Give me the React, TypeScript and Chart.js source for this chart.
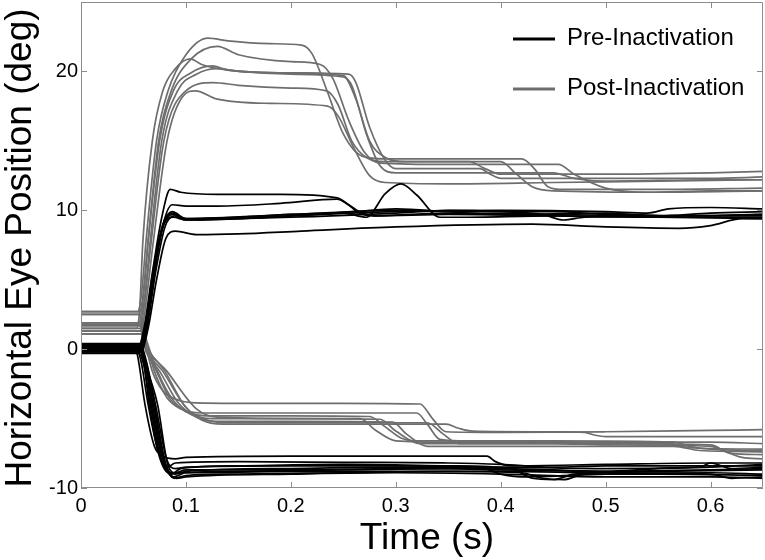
import React, { useEffect, useRef } from "react";
import { Chart, registerables } from "chart.js";

Chart.register(...registerables);

// ---------- axes / labels ----------
const X_MIN = 0;
const X_MAX = 0.65;
const Y_MIN = -10;
const Y_MAX = 25;
const xTickValues = [0, 0.1, 0.2, 0.3, 0.4, 0.5, 0.6];
const yTickValues = [-10, 0, 10, 20];
const xTitle = "Time (s)";
const yTitle = "Horizontal Eye Position (deg)";
const legendLabels = ["Pre-Inactivation", "Post-Inactivation"];
const PRE_COLOR = "#000000";
const POST_COLOR = "#6e6e6e";
const FONT = "'Liberation Sans', Arial, sans-serif";

type Trace = [number, number][];

// ---------- Pre-inactivation, rightward (up) ----------
const preUp: Trace[] = [
  [[0, 0.25], [0.055, 0.25], [0.06, 1.5], [0.068, 5.5], [0.077, 9.5], [0.085, 11.5], [0.095, 11.3], [0.13, 11.15], [0.19, 11.15], [0.244, 10.9], [0.255, 10.4], [0.265, 9.8], [0.28, 9.6], [0.35, 9.7], [0.45, 9.6], [0.55, 9.5], [0.65, 9.5]],
  [[0, 0.0], [0.056, 0.0], [0.062, 1.5], [0.07, 5.5], [0.079, 9.2], [0.087, 10.4], [0.1, 10.3], [0.13, 10.3], [0.19, 10.5], [0.244, 10.8], [0.255, 10.4], [0.268, 9.8], [0.28, 9.6], [0.35, 9.8], [0.45, 9.7], [0.55, 9.6], [0.65, 9.7]],
  [[0, 0.1], [0.056, 0.1], [0.062, 1.8], [0.07, 6], [0.079, 9.1], [0.087, 9.9], [0.1, 9.4], [0.15, 9.5], [0.2, 9.7], [0.25, 9.8], [0.272, 9.5], [0.29, 11.2], [0.305, 11.9], [0.32, 11.1], [0.342, 9.5], [0.36, 9.5], [0.45, 9.6], [0.55, 9.5], [0.65, 9.4]],
  [[0, -0.1], [0.057, -0.1], [0.063, 1.5], [0.071, 5.5], [0.08, 8.8], [0.089, 9.6], [0.1, 9.3], [0.15, 9.4], [0.2, 9.6], [0.3, 9.9], [0.4, 10.0], [0.5, 9.9], [0.54, 9.8], [0.56, 10.1], [0.6, 10.2], [0.65, 10.1]],
  [[0, 0.3], [0.056, 0.3], [0.062, 1.8], [0.07, 6], [0.079, 9.0], [0.088, 9.7], [0.1, 9.4], [0.2, 9.7], [0.3, 10.0], [0.4, 9.9], [0.45, 9.9], [0.5, 9.7], [0.6, 9.6], [0.65, 9.7]],
  [[0, -0.2], [0.057, -0.2], [0.064, 1.5], [0.072, 5], [0.081, 8.0], [0.09, 8.5], [0.11, 8.25], [0.15, 8.3], [0.21, 8.5], [0.3, 8.8], [0.43, 9.0], [0.5, 8.8], [0.57, 8.7], [0.6, 8.9], [0.63, 9.4], [0.65, 9.4]],
  [[0, 0.0], [0.055, 0.0], [0.061, 1.5], [0.069, 5.8], [0.078, 9.0], [0.087, 9.8], [0.1, 9.35], [0.2, 9.5], [0.3, 9.8], [0.35, 10.0], [0.4, 9.9], [0.44, 9.7], [0.46, 9.3], [0.48, 9.5], [0.6, 9.6], [0.65, 9.6]],
  [[0, 0.2], [0.056, 0.2], [0.062, 1.7], [0.07, 5.8], [0.079, 9.0], [0.088, 9.5], [0.1, 9.3], [0.2, 9.6], [0.26, 9.9], [0.3, 10.1], [0.35, 9.9], [0.4, 9.7], [0.5, 9.8], [0.55, 9.6], [0.6, 9.8], [0.65, 9.9]],
];

// ---------- Pre-inactivation, leftward (down) ----------
const preDown: Trace[] = [
  [[0, 0.3], [0.05, 0.3], [0.054, -0.5], [0.061, -4.0], [0.07, -7.0], [0.078, -7.7], [0.09, -7.9], [0.1, -7.8], [0.2, -7.7], [0.3, -7.7], [0.387, -7.7], [0.395, -8.1], [0.41, -8.4], [0.5, -8.3], [0.6, -8.2], [0.65, -8.2]],
  [[0, 0.1], [0.052, 0.1], [0.057, -0.8], [0.064, -4.0], [0.074, -7.5], [0.082, -8.5], [0.09, -8.2], [0.15, -8.1], [0.25, -8.15], [0.35, -8.2], [0.4, -8.3], [0.45, -8.5], [0.5, -8.4], [0.6, -8.4], [0.65, -8.4]],
  [[0, -0.3], [0.055, -0.3], [0.06, -1.2], [0.066, -4.0], [0.076, -7.8], [0.086, -9.0], [0.095, -8.6], [0.15, -8.4], [0.25, -8.3], [0.35, -8.4], [0.41, -8.6], [0.43, -9.3], [0.45, -9.4], [0.47, -9.0], [0.55, -8.8], [0.65, -8.7]],
  [[0, 0.4], [0.056, 0.4], [0.061, -0.8], [0.067, -4.0], [0.078, -8.0], [0.088, -9.2], [0.1, -8.9], [0.15, -8.8], [0.25, -8.7], [0.35, -8.6], [0.4, -8.7], [0.5, -8.8], [0.6, -8.7], [0.65, -8.6]],
  [[0, 0.0], [0.057, 0.0], [0.062, -1.0], [0.068, -4.0], [0.079, -8.0], [0.089, -9.3], [0.1, -9.1], [0.15, -9.0], [0.25, -8.9], [0.35, -8.8], [0.42, -8.9], [0.44, -9.3], [0.46, -9.4], [0.48, -9.0], [0.55, -9.0], [0.65, -9.1]],
  [[0, 0.2], [0.056, 0.2], [0.061, -1.0], [0.069, -4.0], [0.08, -8.2], [0.09, -9.0], [0.1, -8.8], [0.2, -8.6], [0.3, -8.5], [0.4, -8.5], [0.5, -8.6], [0.59, -8.5], [0.6, -8.2], [0.62, -8.6], [0.65, -8.5]],
  [[0, -0.1], [0.058, -0.1], [0.063, -1.2], [0.07, -4.0], [0.081, -8.3], [0.091, -9.3], [0.1, -9.2], [0.2, -9.0], [0.3, -8.9], [0.4, -9.0], [0.5, -9.2], [0.6, -9.2], [0.65, -9.3]],
  [[0, 0.3], [0.057, 0.3], [0.062, -0.8], [0.071, -4.0], [0.082, -8.0], [0.09, -8.6], [0.1, -8.5], [0.2, -8.4], [0.3, -8.4], [0.38, -8.5], [0.4, -9.0], [0.42, -9.2], [0.5, -9.0], [0.6, -8.9], [0.65, -9.0]],
  [[0, -0.2], [0.056, -0.2], [0.062, -1.3], [0.073, -4.0], [0.083, -8.4], [0.09, -8.9], [0.1, -8.7], [0.2, -8.7], [0.3, -8.6], [0.4, -8.6], [0.45, -8.7], [0.5, -8.8], [0.55, -8.6], [0.6, -8.5], [0.65, -8.3]],
  [[0, 0.1], [0.055, 0.1], [0.06, -1.0], [0.065, -4.0], [0.075, -7.8], [0.084, -8.9], [0.1, -8.9], [0.2, -8.8], [0.3, -8.8], [0.4, -8.8], [0.5, -8.9], [0.6, -9.0], [0.62, -9.3], [0.65, -9.2]],
];

// ---------- Post-inactivation, rightward (up) ----------
const postUp: Trace[] = [
  [[0, 2.7], [0.054, 2.7], [0.058, 4.2], [0.062, 7.8], [0.072, 15], [0.083, 18.6], [0.1, 21.2], [0.121, 22.4], [0.14, 22.2], [0.18, 22.0], [0.21, 21.9], [0.22, 21.3], [0.235, 18.5], [0.25, 15.5], [0.268, 13.9], [0.29, 13.7], [0.35, 13.7], [0.42, 13.7], [0.432, 13.0], [0.445, 11.7], [0.46, 11.5], [0.55, 11.5], [0.65, 11.6]],
  [[0, 1.9], [0.055, 1.9], [0.059, 3.5], [0.064, 7.8], [0.074, 15], [0.086, 18.6], [0.105, 20.9], [0.13, 21.8], [0.15, 21.2], [0.2, 20.7], [0.228, 20.5], [0.24, 19.5], [0.255, 16.5], [0.27, 14.2], [0.285, 13.4], [0.35, 13.3], [0.455, 13.3], [0.47, 12.6], [0.5, 11.6], [0.54, 11.3], [0.6, 11.4], [0.65, 11.4]],
  [[0, 1.5], [0.053, 1.5], [0.056, 3], [0.059, 7.8], [0.068, 15], [0.078, 18.6], [0.09, 20.2], [0.104, 20.9], [0.115, 20.5], [0.14, 20.1], [0.2, 19.9], [0.25, 19.7], [0.262, 18.0], [0.275, 15.0], [0.29, 13.8], [0.31, 13.5], [0.37, 13.5], [0.385, 13.0], [0.4, 12.6], [0.5, 12.6], [0.6, 12.7], [0.65, 12.8]],
  [[0, 2.5], [0.055, 2.5], [0.059, 3.8], [0.064, 7.8], [0.075, 15], [0.088, 18.6], [0.105, 19.9], [0.125, 20.4], [0.14, 20.1], [0.2, 19.9], [0.255, 19.8], [0.262, 19.2], [0.275, 16], [0.29, 13.6], [0.3, 13.0], [0.38, 13.0], [0.39, 12.6], [0.4, 12.3], [0.5, 12.3], [0.6, 12.3], [0.65, 12.4]],
  [[0, 1.7], [0.056, 1.7], [0.06, 3.3], [0.066, 7.8], [0.077, 15], [0.092, 18.6], [0.11, 19.8], [0.13, 20.2], [0.15, 20.0], [0.2, 19.8], [0.25, 19.6], [0.258, 19.0], [0.272, 15.5], [0.285, 13.2], [0.3, 12.7], [0.45, 12.7], [0.47, 12.3], [0.5, 12.1], [0.6, 12.2], [0.65, 12.2]],
  [[0, 1.3], [0.056, 1.3], [0.06, 3], [0.067, 7.8], [0.079, 15], [0.1, 18.6], [0.126, 19.2], [0.15, 19.0], [0.2, 18.8], [0.234, 18.6], [0.245, 17.6], [0.258, 15], [0.272, 13.8], [0.29, 13.5], [0.4, 13.5], [0.415, 12.6], [0.43, 11.7], [0.45, 11.4], [0.55, 11.3], [0.65, 11.4]],
  [[0, 1.1], [0.057, 1.1], [0.061, 2.8], [0.069, 7.8], [0.082, 15], [0.097, 18.2], [0.109, 18.6], [0.13, 18.0], [0.18, 17.7], [0.235, 17.5], [0.245, 16.8], [0.26, 14.5], [0.275, 12.5], [0.29, 12.0], [0.35, 11.9], [0.45, 12.0], [0.55, 12.1], [0.65, 12.2]],
];

// ---------- Post-inactivation, leftward (down) ----------
const postDown: Trace[] = [
  [[0, 1.8], [0.056, 1.8], [0.06, 0.8], [0.068, -1.6], [0.078, -3.0], [0.09, -3.6], [0.105, -3.85], [0.15, -3.9], [0.25, -3.9], [0.323, -3.95], [0.335, -5.0], [0.348, -5.95], [0.4, -6.0], [0.5, -5.95], [0.6, -5.85], [0.65, -5.8]],
  [[0, 2.5], [0.055, 2.5], [0.06, 1.0], [0.07, -1.6], [0.082, -3.5], [0.095, -4.3], [0.115, -4.6], [0.2, -4.6], [0.32, -4.6], [0.33, -5.4], [0.342, -6.5], [0.36, -6.6], [0.45, -6.6], [0.565, -6.7], [0.58, -7.0], [0.6, -7.2], [0.65, -7.3]],
  [[0, 1.5], [0.056, 1.5], [0.061, 0.3], [0.072, -1.6], [0.085, -3.6], [0.1, -4.5], [0.12, -4.8], [0.2, -4.8], [0.275, -4.85], [0.29, -5.6], [0.305, -6.4], [0.32, -6.6], [0.4, -6.6], [0.5, -6.7], [0.6, -6.7], [0.65, -6.8]],
  [[0, 2.7], [0.055, 2.7], [0.061, 1.0], [0.073, -1.6], [0.088, -3.7], [0.105, -4.7], [0.125, -5.0], [0.2, -5.0], [0.285, -5.05], [0.3, -5.9], [0.323, -6.8], [0.4, -6.8], [0.5, -6.8], [0.6, -6.9], [0.615, -7.4], [0.63, -7.8], [0.65, -7.9]],
  [[0, 1.1], [0.057, 1.1], [0.062, -0.2], [0.075, -1.6], [0.092, -3.8], [0.11, -4.9], [0.13, -5.2], [0.2, -5.2], [0.297, -5.25], [0.31, -6.1], [0.33, -7.0], [0.4, -7.0], [0.5, -7.0], [0.565, -7.0], [0.59, -7.3], [0.65, -7.4]],
  [[0, 1.3], [0.057, 1.3], [0.062, 0], [0.078, -1.6], [0.098, -4.0], [0.115, -5.1], [0.135, -5.4], [0.2, -5.4], [0.348, -5.4], [0.36, -5.7], [0.373, -5.9], [0.45, -5.95], [0.48, -6.0], [0.49, -6.2], [0.5, -6.3], [0.6, -6.3], [0.65, -6.3]],
  [[0, 1.9], [0.056, 1.9], [0.061, 0.5], [0.08, -1.6], [0.1, -4.2], [0.12, -5.1], [0.14, -5.3], [0.2, -5.3], [0.33, -5.3], [0.345, -6.1], [0.36, -6.8], [0.45, -6.8], [0.5, -6.9], [0.6, -7.0], [0.62, -7.5], [0.65, -7.6]],
  [[0, 1.7], [0.056, 1.7], [0.061, 0.4], [0.082, -1.6], [0.11, -4.3], [0.13, -4.9], [0.2, -5.0], [0.266, -5.0], [0.28, -5.8], [0.3, -6.6], [0.35, -6.7], [0.45, -6.7], [0.5, -6.8], [0.56, -6.8], [0.58, -7.1], [0.65, -7.2]],
];

const makeDataset = (trace: Trace, color: string, label: string) => ({
  label,
  data: trace.map(([t, v]) => ({ x: t, y: v })),
  borderColor: color,
  backgroundColor: color,
  borderWidth: 1.7,
  pointRadius: 0,
  pointHoverRadius: 0,
  fill: false,
  cubicInterpolationMode: "monotone" as const,
});

const framePlugin = {
  id: "frameAndText",
  afterDraw(chart: any) {
    const { ctx, chartArea, scales } = chart;
    const { left, right, top, bottom } = chartArea;
    const xs = scales.x;
    const ys = scales.y;
    ctx.save();
    // frame
    ctx.strokeStyle = "#8c8c8c";
    ctx.lineWidth = 1;
    ctx.beginPath();
    ctx.moveTo(left + 0.5, top + 0.5);
    ctx.lineTo(right - 0.5, top + 0.5);
    ctx.lineTo(right - 0.5, bottom - 0.5);
    ctx.lineTo(left + 0.5, bottom - 0.5);
    ctx.closePath();
    ctx.stroke();
    // inward ticks
    const TL = 6;
    ctx.beginPath();
    xTickValues.forEach((v) => {
      const px = Math.round(xs.getPixelForValue(v)) + 0.5;
      ctx.moveTo(px, bottom);
      ctx.lineTo(px, bottom - TL);
      ctx.moveTo(px, top);
      ctx.lineTo(px, top + TL);
    });
    yTickValues.forEach((v) => {
      const py = Math.round(ys.getPixelForValue(v)) + 0.5;
      ctx.moveTo(left, py);
      ctx.lineTo(left + TL, py);
      ctx.moveTo(right, py);
      ctx.lineTo(right - TL, py);
    });
    ctx.stroke();

    // axis titles
    ctx.fillStyle = "#000";
    ctx.font = `37px ${FONT}`;
    ctx.textAlign = "center";
    ctx.textBaseline = "middle";
    ctx.fillText(xTitle, (left + right) / 2 + 5, 539);
    ctx.save();
    ctx.translate(21, (top + bottom) / 2 + 3);
    ctx.rotate(-Math.PI / 2);
    ctx.fillText(yTitle, 0, 0);
    ctx.restore();

    // legend
    const lx0 = right - 250;
    const lx1 = right - 208;
    const tx = right - 196;
    const rows = [
      { y: top + 37, color: PRE_COLOR, text: legendLabels[0] },
      { y: top + 87, color: POST_COLOR, text: legendLabels[1] },
    ];
    ctx.font = `24px ${FONT}`;
    ctx.textAlign = "left";
    ctx.textBaseline = "middle";
    rows.forEach((r) => {
      ctx.strokeStyle = r.color;
      ctx.lineWidth = 3;
      ctx.beginPath();
      ctx.moveTo(lx0, r.y);
      ctx.lineTo(lx1, r.y);
      ctx.stroke();
      ctx.fillStyle = "#000";
      ctx.fillText(r.text, tx, r.y - 1);
    });
    ctx.restore();
  },
};

export default function App() {
  const canvasRef = useRef<HTMLCanvasElement | null>(null);

  useEffect(() => {
    if (!canvasRef.current) return;
    const datasets = [
      ...preUp.map((t) => makeDataset(t, PRE_COLOR, legendLabels[0])),
      ...preDown.map((t) => makeDataset(t, PRE_COLOR, legendLabels[0])),
      ...postUp.map((t) => makeDataset(t, POST_COLOR, legendLabels[1])),
      ...postDown.map((t) => makeDataset(t, POST_COLOR, legendLabels[1])),
    ];
    const chart = new Chart(canvasRef.current, {
      type: "line",
      data: { datasets },
      options: {
        responsive: false,
        animation: false,
        maintainAspectRatio: false,
        layout: { padding: { left: 0, right: 2, top: 2, bottom: 0 } },
        plugins: {
          legend: { display: false },
          tooltip: { enabled: false },
        },
        events: [],
        scales: {
          x: {
            type: "linear",
            min: X_MIN,
            max: X_MAX,
            grid: { display: false },
            border: { display: false },
            afterBuildTicks: (scale: any) => {
              scale.ticks = xTickValues.map((v) => ({ value: v }));
            },
            afterFit: (scale: any) => {
              scale.height = 72;
              scale.paddingLeft = 0;
              scale.paddingRight = 0;
            },
            ticks: {
              autoSkip: false,
              maxRotation: 0,
              padding: -2,
              color: "#000",
              font: { family: FONT, size: 20 },
              callback: (v: any) => (v === 0 ? "0" : String(v)),
            },
          },
          y: {
            type: "linear",
            min: Y_MIN,
            max: Y_MAX,
            grid: { display: false },
            border: { display: false },
            afterBuildTicks: (scale: any) => {
              scale.ticks = yTickValues.map((v) => ({ value: v }));
            },
            afterFit: (scale: any) => {
              scale.width = 81;
              scale.paddingTop = 0;
              scale.paddingBottom = 0;
            },
            ticks: {
              autoSkip: false,
              padding: -5,
              color: "#000",
              font: { family: FONT, size: 20 },
              callback: (v: any) => String(v),
            },
          },
        },
      },
      plugins: [framePlugin],
    });
    return () => chart.destroy();
  }, []);

  return (
    <div style={{ position: "fixed", left: 0, top: 0, width: 765, height: 560, background: "#fff" }}>
      <canvas ref={canvasRef} width={765} height={560} />
    </div>
  );
}
